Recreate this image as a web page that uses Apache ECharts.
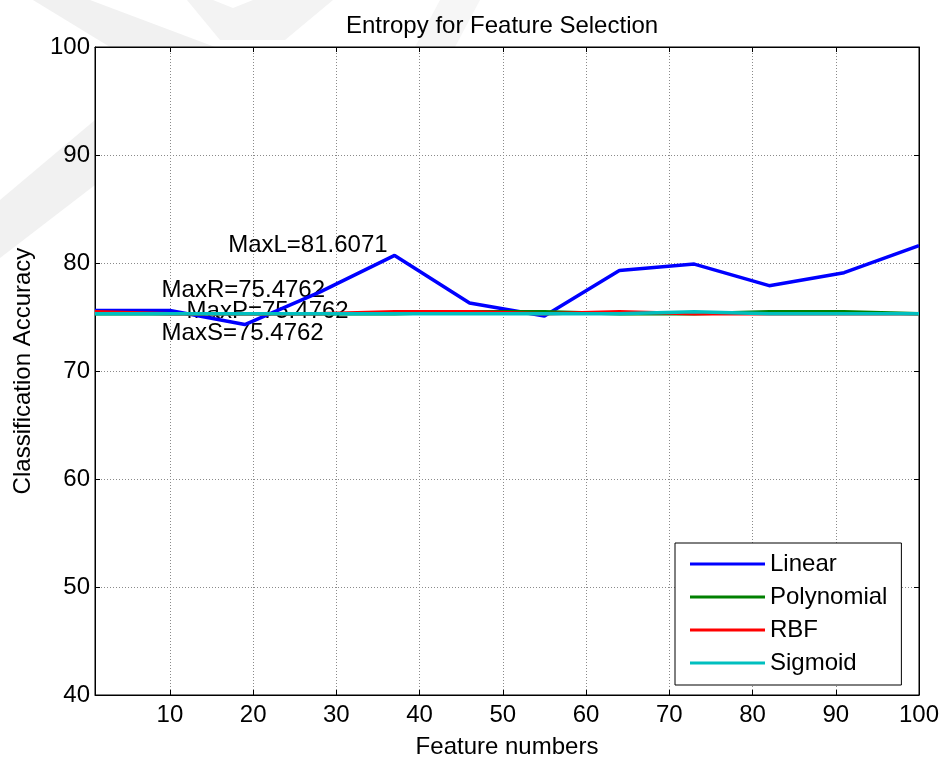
<!DOCTYPE html>
<html>
<head>
<meta charset="utf-8">
<script src="https://cdn.jsdelivr.net/npm/echarts@6/dist/echarts.min.js"></script>
<style>
  html, body { margin: 0; padding: 0; background: #fff; }
  #chart { width: 942px; height: 761px; }
</style>
</head>
<body>
<div id="chart"></div>
<script>
// Number of selected features (x) and classification accuracy per SVM kernel (y)
const featureNumbers = [1, 10, 19, 28, 37, 46, 55, 64, 73, 82, 91, 100];
const linearAcc     = [75.6, 75.6, 74.3, 77.3, 80.7, 76.3, 75.1, 79.3, 79.9, 77.9, 79.1, 81.6071];
const polynomialAcc = [75.3, 75.3, 75.3, 75.3, 75.3, 75.4762, 75.4762, 75.3, 75.3, 75.4762, 75.4762, 75.3];
const rbfAcc        = [75.4762, 75.3, 75.3, 75.3, 75.4762, 75.4762, 75.3, 75.4762, 75.3, 75.3, 75.3, 75.3];
const sigmoidAcc    = [75.3, 75.3, 75.3, 75.3, 75.3, 75.3, 75.3, 75.3, 75.4762, 75.3, 75.3, 75.3];

const xTicks = [10, 20, 30, 40, 50, 60, 70, 80, 90, 100];
const yTicks = [40, 50, 60, 70, 80, 90, 100];

const seriesNames = ['Linear', 'Polynomial', 'RBF', 'Sigmoid'];
const seriesData = [linearAcc, polynomialAcc, rbfAcc, sigmoidAcc];
const seriesColors = ['#0000ff', '#008000', '#ff0000', '#00bfbf'];

// Annotation text: "Max<initial>=<max value>" anchored at (x, max + dy) in data space
const maxTags = ['MaxL', 'MaxP', 'MaxR', 'MaxS'];
const maxAnchorX = [17, 12, 9, 9];
const maxAnchorDy = [0, 0, 2, -2];

const FONT = "'Liberation Sans', Arial, Helvetica, sans-serif";
const FS = 24;

const chart = echarts.init(document.getElementById('chart'), null, { renderer: 'canvas' });

const toPairs = ys => featureNumbers.map((x, i) => [x, ys[i]]);

const series = seriesNames.map((name, i) => {
  const maxVal = Math.max.apply(null, seriesData[i]);
  return {
    name: name,
    type: 'line',
    data: toPairs(seriesData[i]),
    symbol: 'none',
    showSymbol: false,
    smooth: false,
    animation: false,
    lineStyle: { color: seriesColors[i], width: 3.5 },
    itemStyle: { color: seriesColors[i] },
    markPoint: {
      z: 1,
      symbol: 'circle',
      symbolSize: 0,
      animation: false,
      silent: true,
      data: [{
        coord: [maxAnchorX[i], maxVal + maxAnchorDy[i]],
        label: {
          show: true,
          position: 'right',
          distance: 0,
          formatter: maxTags[i] + '=' + String(maxVal),
          color: '#000',
          fontFamily: FONT,
          fontSize: FS
        }
      }]
    }
  };
});

// Faint chevron watermark in the upper-left margin
const wm = (pts, fill) => ({
  type: 'polygon', z: -10, silent: true,
  shape: { points: pts }, style: { fill: fill }
});

const option = {
  backgroundColor: '#fff',
  animation: false,
  title: {
    text: 'Entropy for Feature Selection',
    left: 341, top: 9,
    textStyle: { fontFamily: FONT, fontSize: FS, fontWeight: 'normal', color: '#000' }
  },
  graphic: [
    wm([[33, 0], [90, 0], [215, 47], [110, 47]], '#f1f1f1'),
    wm([[187, 0], [213, 0], [233, 8], [253, 0], [333, 0], [285, 40], [220, 40]], '#f3f3f3'),
    wm([[440, 0], [480, 0], [455, 47], [415, 47]], '#f6f6f6'),
    wm([[0, 200], [95, 120], [95, 185], [0, 258]], '#f1f1f1')
  ],
  grid: {
    left: 95, right: 23, top: 47, bottom: 66,
    outerBoundsMode: 'none',
    containLabel: false,
    show: true, backgroundColor: '#fff', borderColor: '#000', borderWidth: 1
  },
  legend: {
    orient: 'vertical',
    left: 675, top: 543,
    data: seriesNames,
    icon: 'rect',
    itemWidth: 75, itemHeight: 3,
    itemGap: 9, itemTextGap: 8,
    padding: [9, 14, 10, 15],
    backgroundColor: '#fff',
    borderColor: '#000', borderWidth: 1, borderRadius: 0,
    textStyle: { fontFamily: FONT, fontSize: FS, color: '#000', lineHeight: 24 }
  },
  xAxis: [{
    type: 'value', position: 'bottom',
    min: 1, max: 100,
    name: 'Feature numbers', nameLocation: 'middle', nameGap: 40,
    nameTextStyle: { fontFamily: FONT, fontSize: FS, color: '#000' },
    axisLine: { show: true, onZero: false, lineStyle: { color: '#000', width: 1 } },
    axisTick: { show: true, inside: true, length: 5, customValues: xTicks, lineStyle: { color: '#000' } },
    axisLabel: { show: true, customValues: xTicks, margin: 8, fontFamily: FONT, fontSize: FS, color: '#000' },
    splitLine: { show: true, lineStyle: { color: '#8a8a8a', type: [1, 2], width: 1 } }
  }, {
    type: 'value', position: 'top',
    min: 1, max: 100,
    axisLine: { show: true, onZero: false, lineStyle: { color: '#000', width: 1 } },
    axisTick: { show: true, inside: true, length: 5, customValues: xTicks, lineStyle: { color: '#000' } },
    axisLabel: { show: false },
    splitLine: { show: false }
  }],
  yAxis: [{
    type: 'value', position: 'left',
    min: 40, max: 100, interval: 10,
    name: 'Classification Accuracy', nameLocation: 'middle', nameGap: 60, nameRotate: 90,
    nameTextStyle: { fontFamily: FONT, fontSize: FS, color: '#000' },
    axisLine: { show: true, onZero: false, lineStyle: { color: '#000', width: 1 } },
    axisTick: { show: true, inside: true, length: 5, lineStyle: { color: '#000' } },
    axisLabel: { show: true, margin: 5, fontFamily: FONT, fontSize: FS, color: '#000',
                 customValues: yTicks },
    splitLine: { show: true, lineStyle: { color: '#8a8a8a', type: [1, 2], width: 1 } }
  }, {
    type: 'value', position: 'right',
    min: 40, max: 100, interval: 10,
    axisLine: { show: true, onZero: false, lineStyle: { color: '#000', width: 1 } },
    axisTick: { show: true, inside: true, length: 5, lineStyle: { color: '#000' } },
    axisLabel: { show: false },
    splitLine: { show: false }
  }],
  series: series
};

chart.setOption(option);
</script>
</body>
</html>
